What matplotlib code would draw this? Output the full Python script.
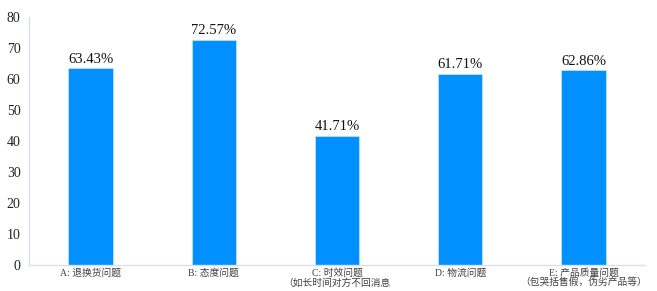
import matplotlib
matplotlib.use("Agg")
import matplotlib.pyplot as plt

# Data
categories = ["A: 退换货问题", "B: 态度问题", "C: 时效问题\n（如长时间对方不回消息",
              "D: 物流问题", "E: 产品质量问题\n（包哭括售假，伪劣产品等）"]
values = [63.43, 72.57, 41.71, 61.71, 62.86]
yticks = [0, 10, 20, 30, 40, 50, 60, 70, 80]

serif = ["Liberation Serif", "Noto Sans CJK SC"]
cjk = ["Liberation Serif", "Noto Sans CJK SC", "DejaVu Sans"]

fig = plt.figure(figsize=(6.57, 2.91), dpi=100)
ax = fig.add_axes([0.044, 0.089, 0.938, 0.853])

x = list(range(len(categories)))
ax.bar(x, values, width=0.36, color="#0090ff", edgecolor="#bfe0ff", linewidth=0.6)

for xi, v in zip(x, values):
    ax.text(xi, v + 0.8, "%.2f%%" % v, ha="center", va="bottom",
            fontsize=10.5, family=serif, color="#111111")

ax.set_xlim(-0.5, len(categories) - 0.5)
ax.set_ylim(0, 80)
ax.set_yticks(yticks)
ax.set_yticklabels([str(t) for t in yticks], family=serif, fontsize=10, color="#222222")
ax.set_xticks(x)
ax.set_xticklabels(categories, family=cjk, fontsize=7, color="#404040", linespacing=1.0)
ax.tick_params(axis="both", length=0, pad=2)
ax.tick_params(axis="y", pad=6)

for s in ["top", "right"]:
    ax.spines[s].set_visible(False)
for s in ["left", "bottom"]:
    ax.spines[s].set_color("#d6e0f0")
    ax.spines[s].set_linewidth(1.0)

fig.savefig("out.png", dpi=100, facecolor="white")
